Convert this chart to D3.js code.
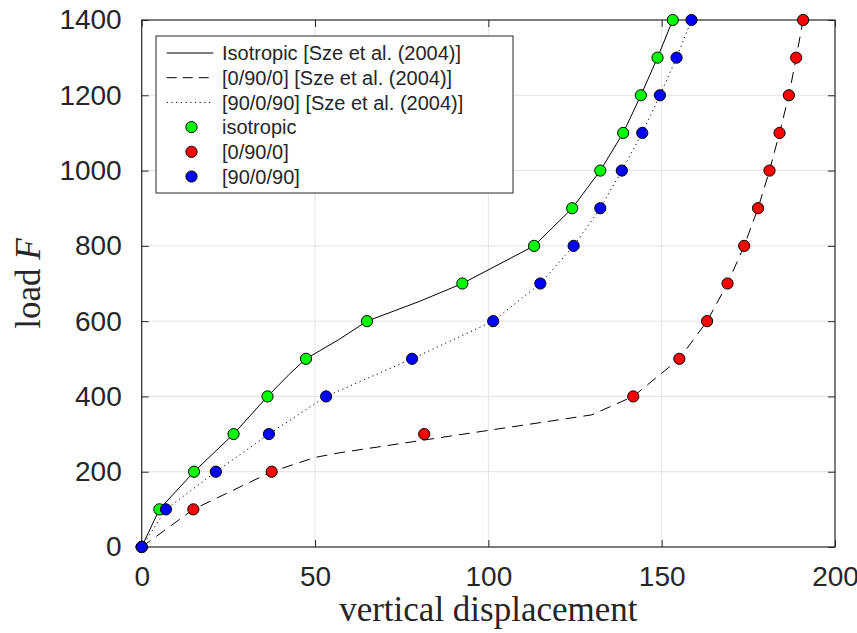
<!DOCTYPE html>
<html>
<head>
<meta charset="utf-8">
<script src="https://cdn.jsdelivr.net/npm/d3@7"></script>
<style>
  body { margin: 0; background: #fff; }
  svg text { font-family: "Liberation Sans", Arial, sans-serif; fill: #262626; }
</style>
</head>
<body>
<div id="chart"></div>
<script>
// load levels shared by all marker series
const loads = [0, 100, 200, 300, 400, 500, 600, 700, 800, 900, 1000, 1100, 1200, 1300, 1400]
// computed results (markers)
const isoDisp = [0, 5.1, 15.1, 26.5, 36.3, 47.4, 65.0, 92.5, 113.2, 124.2, 132.3, 138.9, 144.0, 148.8, 153.2]
const lay0Disp = [0, 14.9, 37.5, 81.5, 141.8, 155.1, 163.1, 169.0, 173.8, 177.8, 181.1, 184.0, 186.7, 188.8, 190.8]
const lay90Disp = [0, 7.0, 21.4, 36.7, 53.2, 78.0, 101.4, 115.0, 124.6, 132.3, 138.5, 144.4, 149.5, 154.3, 158.6]

// reference curves, Sze et al. (2004)
const refIsoDisp = [0, 5.1, 15.1, 26.5, 36.3, 42.8, 47.4, 56.7, 65.0, 80, 92.5, 113.2, 124.2, 132.3, 138.9, 144.0, 148.8, 153.2]
const refIsoLoad = [0, 100, 200, 300, 400, 461, 500, 550, 600, 652, 700, 800, 900, 1000, 1100, 1200, 1300, 1400]
const ref0Disp = [0, 14.9, 37.5, 50, 57.5, 129.8, 141.8, 155.1, 163.1, 169.0, 173.8, 177.8, 181.1, 184.0, 186.7, 188.8, 190.8]
const ref0Load = [0, 100, 200, 238, 251, 351, 400, 500, 600, 700, 800, 900, 1000, 1100, 1200, 1300, 1400]
const ref90Disp = [0, 7.0, 21.4, 36.7, 53.2, 78.0, 101.4, 115.0, 124.6, 132.3, 138.5, 144.4, 149.5, 154.3, 158.6]
const ref90Load = [0, 100, 200, 300, 400, 500, 600, 700, 800, 900, 1000, 1100, 1200, 1300, 1400]

const xTicks = [0, 50, 100, 150, 200]
const yTicks = [0, 200, 400, 600, 800, 1000, 1200, 1400]

const width = 857, height = 633
const margin = { top: 20, right: 22, bottom: 86, left: 141.7 }
const innerW = width - margin.left - margin.right
const innerH = height - margin.top - margin.bottom

const x = d3.scaleLinear().domain([0, 200]).range([margin.left, margin.left + innerW])
const y = d3.scaleLinear().domain([0, 1400]).range([margin.top + innerH, margin.top])

const svg = d3.select("#chart").append("svg")
  .attr("width", width).attr("height", height)

// grid
const grid = svg.append("g")
grid.selectAll(".gx").data(xTicks.slice(1, -1)).join("line")
  .attr("x1", d => x(d)).attr("x2", d => x(d))
  .attr("y1", y(0)).attr("y2", y(1400))
  .attr("stroke", "#e3e3e3").attr("stroke-width", 1)
grid.selectAll(".gy").data(yTicks.slice(1, -1)).join("line")
  .attr("x1", x(0)).attr("x2", x(200))
  .attr("y1", d => y(d)).attr("y2", d => y(d))
  .attr("stroke", "#e3e3e3").attr("stroke-width", 1)

// axes, ticks pointing inward
const fmt = d3.format("d")
const axB = svg.append("g").attr("transform", `translate(0,${y(0)})`)
  .call(d3.axisBottom(x).tickValues(xTicks).tickFormat(fmt).tickSize(-7).tickPadding(19).tickSizeOuter(0))
const axL = svg.append("g").attr("transform", `translate(${x(0)},0)`)
  .call(d3.axisLeft(y).tickValues(yTicks).tickFormat(fmt).tickSize(-7).tickPadding(20).tickSizeOuter(0))
const axT = svg.append("g").attr("transform", `translate(0,${y(1400)})`)
  .call(d3.axisTop(x).tickValues(xTicks).tickSize(-7).tickFormat("").tickSizeOuter(0))
const axR = svg.append("g").attr("transform", `translate(${x(200)},0)`)
  .call(d3.axisRight(y).tickValues(yTicks).tickSize(-7).tickFormat("").tickSizeOuter(0))

;[axB, axL, axT, axR].forEach(a => {
  a.select(".domain").remove()
  a.selectAll(".tick line").attr("stroke", "#262626")
  a.selectAll(".tick text").attr("font-size", 28).attr("fill", "#262626")
    .attr("font-family", "'Liberation Sans', Arial, sans-serif")
})

svg.append("rect")
  .attr("x", x(0)).attr("y", y(1400))
  .attr("width", x(200) - x(0)).attr("height", y(0) - y(1400))
  .attr("fill", "none").attr("stroke", "#262626").attr("stroke-width", 1.2)

// axis labels
svg.append("text")
  .attr("x", (x(0) + x(200)) / 2).attr("y", 621)
  .attr("text-anchor", "middle")
  .style("font-family", "'Liberation Serif', 'DejaVu Serif', serif")
  .attr("font-size", 35)
  .text("vertical displacement")

const yl = svg.append("text")
  .attr("transform", `translate(40,${(y(0) + y(1400)) / 2}) rotate(-90)`)
  .attr("text-anchor", "middle")
  .style("font-family", "'Liberation Serif', 'DejaVu Serif', serif")
  .attr("font-size", 35)
yl.append("tspan").text("load ")
yl.append("tspan").attr("font-style", "italic").text("F")

// reference lines
const line = d3.line().x(d => x(d[0])).y(d => y(d[1]))
const refs = [
  { disp: refIsoDisp, load: refIsoLoad, dash: null },
  { disp: ref0Disp, load: ref0Load, dash: "11,7" },
  { disp: ref90Disp, load: ref90Load, dash: "1.2,3.5" }
]
refs.forEach(r => {
  svg.append("path")
    .datum(r.disp.map((d, i) => [d, r.load[i]]))
    .attr("d", line)
    .attr("fill", "none").attr("stroke", "#000").attr("stroke-width", 1)
    .attr("stroke-dasharray", r.dash)
})

// markers
const markers = [
  { disp: isoDisp, color: "#00ff00" },
  { disp: lay0Disp, color: "#ff0000" },
  { disp: lay90Disp, color: "#0000ff" }
]
markers.forEach(m => {
  svg.append("g").selectAll("circle")
    .data(m.disp.map((d, i) => [d, loads[i]]))
    .join("circle")
    .attr("cx", d => x(d[0])).attr("cy", d => y(d[1]))
    .attr("r", 5.6)
    .attr("fill", m.color).attr("stroke", "#000").attr("stroke-width", 1)
})

// legend
const legendItems = [
  { label: "Isotropic [Sze et al. (2004)]", dash: "", type: "line" },
  { label: "[0/90/0] [Sze et al. (2004)]", dash: "10,6", type: "line" },
  { label: "[90/0/90] [Sze et al. (2004)]", dash: "1.2,3.5", type: "line" },
  { label: "isotropic", color: "#00ff00", type: "marker" },
  { label: "[0/90/0]", color: "#ff0000", type: "marker" },
  { label: "[90/0/90]", color: "#0000ff", type: "marker" }
]
const lg = svg.append("g")
lg.append("rect")
  .attr("x", 156).attr("y", 36).attr("width", 357).attr("height", 157)
  .attr("fill", "#fff").attr("stroke", "#262626").attr("stroke-width", 1)
legendItems.forEach((it, i) => {
  const cy = 53 + i * 24.7
  if (it.type === "line") {
    lg.append("line")
      .attr("x1", 166.7).attr("x2", 213.3).attr("y1", cy).attr("y2", cy)
      .attr("stroke", "#000").attr("stroke-width", 1)
      .attr("stroke-dasharray", it.dash || null)
  } else {
    lg.append("circle").attr("cx", 191.5).attr("cy", cy).attr("r", 5.6)
      .attr("fill", it.color).attr("stroke", "#000").attr("stroke-width", 1)
  }
  lg.append("text").attr("x", 222).attr("y", cy)
    .attr("dy", "0.36em").attr("font-size", 20).attr("fill", "#000")
    .text(it.label)
})
</script>
</body>
</html>
